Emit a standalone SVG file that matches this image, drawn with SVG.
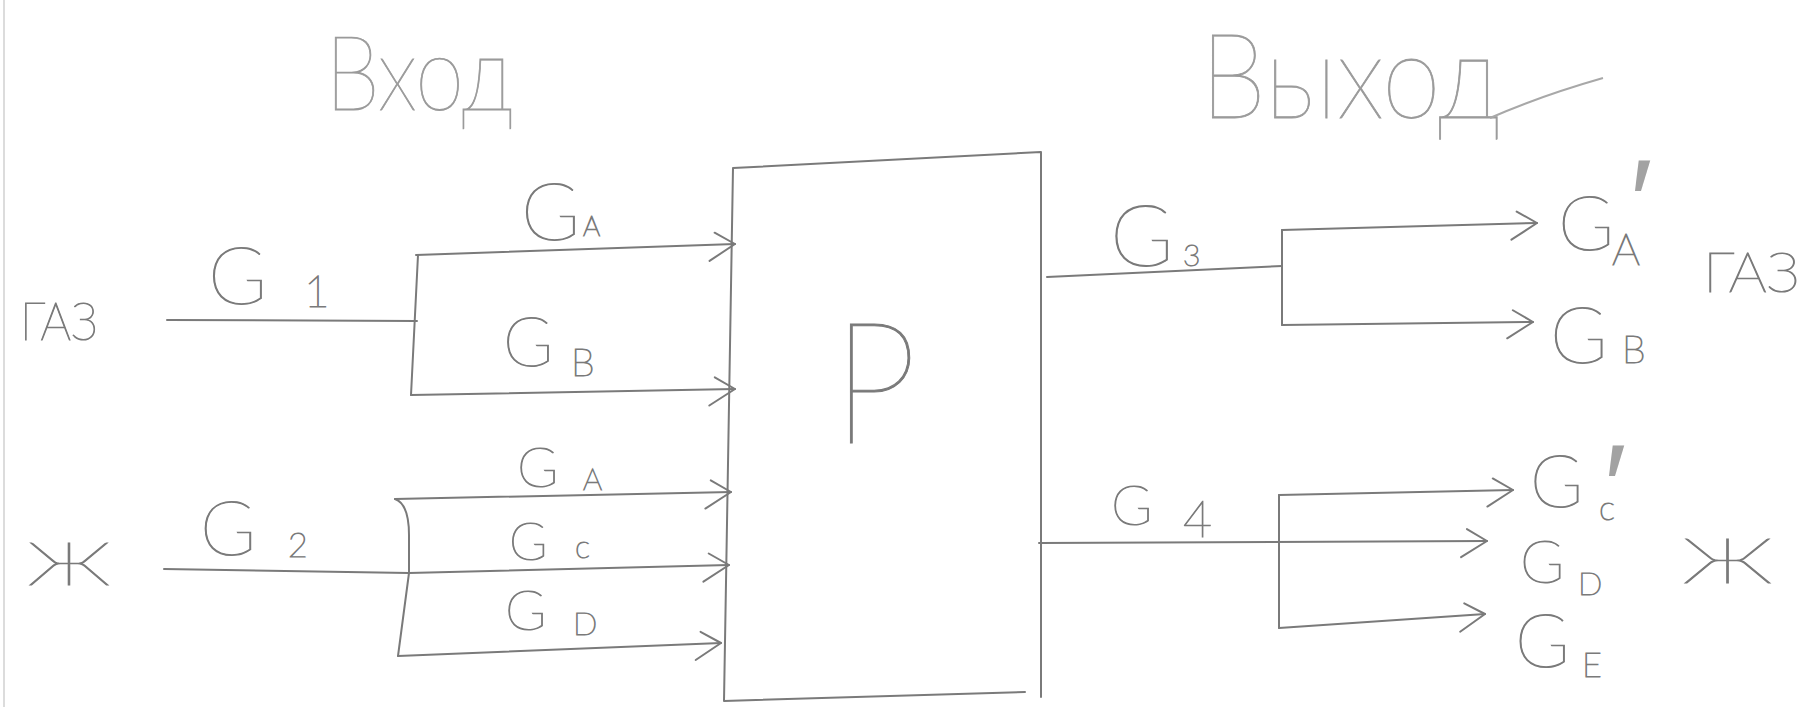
<svg xmlns="http://www.w3.org/2000/svg" width="1807" height="707" viewBox="0 0 1807 707">
<style>
.ln{stroke:#7a7a7a;stroke-width:2;fill:none;stroke-linecap:round;stroke-linejoin:round}
.t{font-family:Lato,Roboto,"Open Sans","DejaVu Sans",sans-serif;font-weight:100;fill:#7a7a7a;stroke:#7a7a7a;stroke-width:1.1}
.ttl{fill:#9a9a9a;stroke:#9a9a9a;stroke-width:0.9}
.pr{font-family:"Liberation Sans",sans-serif;font-weight:normal;fill:#a2a2a2}
</style>
<defs>
<marker id="ah" markerUnits="userSpaceOnUse" markerWidth="40" markerHeight="40" viewBox="-30 -20 34 40" refX="0" refY="0" orient="auto" overflow="visible">
<path d="M-20,-12 L0,0 L-26,16" class="ln"/>
</marker>
</defs>
<rect width="1807" height="707" fill="#ffffff"/>
<line x1="4" y1="0" x2="4" y2="707" stroke="#dcdcdc" stroke-width="2"/>

<g id="titles">
<text class="t ttl" x="325" y="110" font-size="104" textLength="188" lengthAdjust="spacingAndGlyphs">Вход</text>
<text class="t ttl" x="1200" y="118" font-size="118" textLength="300" lengthAdjust="spacingAndGlyphs">Выход</text>
<path d="M1490,118 Q1540,96 1603,78" stroke="#a8a8a8" stroke-width="2" fill="none"/>
</g>

<g id="reactor">
<path class="ln" d="M733,168 L1041,152 L1041,697 M1025,692 L724,701 L733,168"/>
<text class="t" x="833" y="443" font-size="170" textLength="84" lengthAdjust="spacingAndGlyphs">Р</text>
</g>

<g id="gas-in">
<text class="t" x="20" y="340" font-size="52" textLength="78" lengthAdjust="spacingAndGlyphs">ГАЗ</text>
</g>
<g id="liquid-in">
<text class="t" x="28" y="585" font-size="60" textLength="82" lengthAdjust="spacingAndGlyphs">Ж</text>
</g>
<g id="gas-out">
<text class="t" x="1703" y="292" font-size="55" textLength="97" lengthAdjust="spacingAndGlyphs">ГАЗ</text>
</g>
<g id="liquid-out">
<text class="t" x="1683" y="583" font-size="62" textLength="89" lengthAdjust="spacingAndGlyphs">Ж</text>
</g>

<g id="connectors">
<path class="ln" d="M167,320 L417,321"/>
<path class="ln" d="M418,255 L411,395"/>
<path class="ln" d="M416,255 L735,244" marker-end="url(#ah)"/>
<path class="ln" d="M411,395 L735,389" marker-end="url(#ah)"/>

<path class="ln" d="M164,569 L409,573"/>
<path class="ln" d="M395,499 Q409,504 409,535 L409,573 L398,656"/>
<path class="ln" d="M395,499 L731,492" marker-end="url(#ah)"/>
<path class="ln" d="M409,573 L729,565" marker-end="url(#ah)"/>
<path class="ln" d="M398,656 L721,643" marker-end="url(#ah)"/>

<path class="ln" d="M1047,277 L1282,266"/>
<path class="ln" d="M1282,230 L1282,325"/>
<path class="ln" d="M1282,230 L1537,223" marker-end="url(#ah)"/>
<path class="ln" d="M1282,325 L1533,322" marker-end="url(#ah)"/>

<path class="ln" d="M1039,543 L1487,541" marker-end="url(#ah)"/>
<path class="ln" d="M1279,495 L1279,628"/>
<path class="ln" d="M1279,495 L1513,490" marker-end="url(#ah)"/>
<path class="ln" d="M1279,628 L1485,614" marker-end="url(#ah)"/>
</g>

<g id="labels">
<text class="t" x="208" y="304" font-size="80">G<tspan font-size="44" x="304" y="307">1</tspan></text>
<text class="t" x="521" y="240" font-size="80">G<tspan font-size="27" x="583" y="236">A</tspan></text>
<text class="t" x="503" y="366" font-size="68">G<tspan font-size="38" x="571" y="376">B</tspan></text>
<text class="t" x="200" y="555" font-size="76">G<tspan font-size="34" x="288" y="557">2</tspan></text>
<text class="t" x="517" y="487" font-size="56">G<tspan font-size="30" x="583" y="490">A</tspan></text>
<text class="t" x="509" y="560" font-size="52">G<tspan font-size="32" x="575" y="558">c</tspan></text>
<text class="t" x="505" y="630" font-size="56">G<tspan font-size="32" x="573" y="635">D</tspan></text>

<text class="t" x="1110" y="266" font-size="86">G<tspan font-size="30" x="1183" y="266">3</tspan></text>
<text class="t" x="1111" y="525" font-size="56">G<tspan font-size="50" x="1183" y="537">4</tspan></text>

<text class="t" x="1558" y="250" font-size="76">G<tspan font-size="44" x="1612" y="265">A</tspan></text>
<text class="pr" x="1630" y="243" font-size="120">′</text>
<text class="t" x="1550" y="363" font-size="78">G<tspan font-size="38" x="1622" y="363">B</tspan></text>
<text class="t" x="1530" y="507" font-size="72">G<tspan font-size="34" x="1599" y="520">c</tspan></text>
<text class="pr" x="1604" y="528" font-size="120">′</text>
<text class="t" x="1520" y="583" font-size="60">G<tspan font-size="32" x="1578" y="595">D</tspan></text>
<text class="t" x="1515" y="667" font-size="74">G<tspan font-size="34" x="1582" y="677">E</tspan></text>
</g>
</svg>
